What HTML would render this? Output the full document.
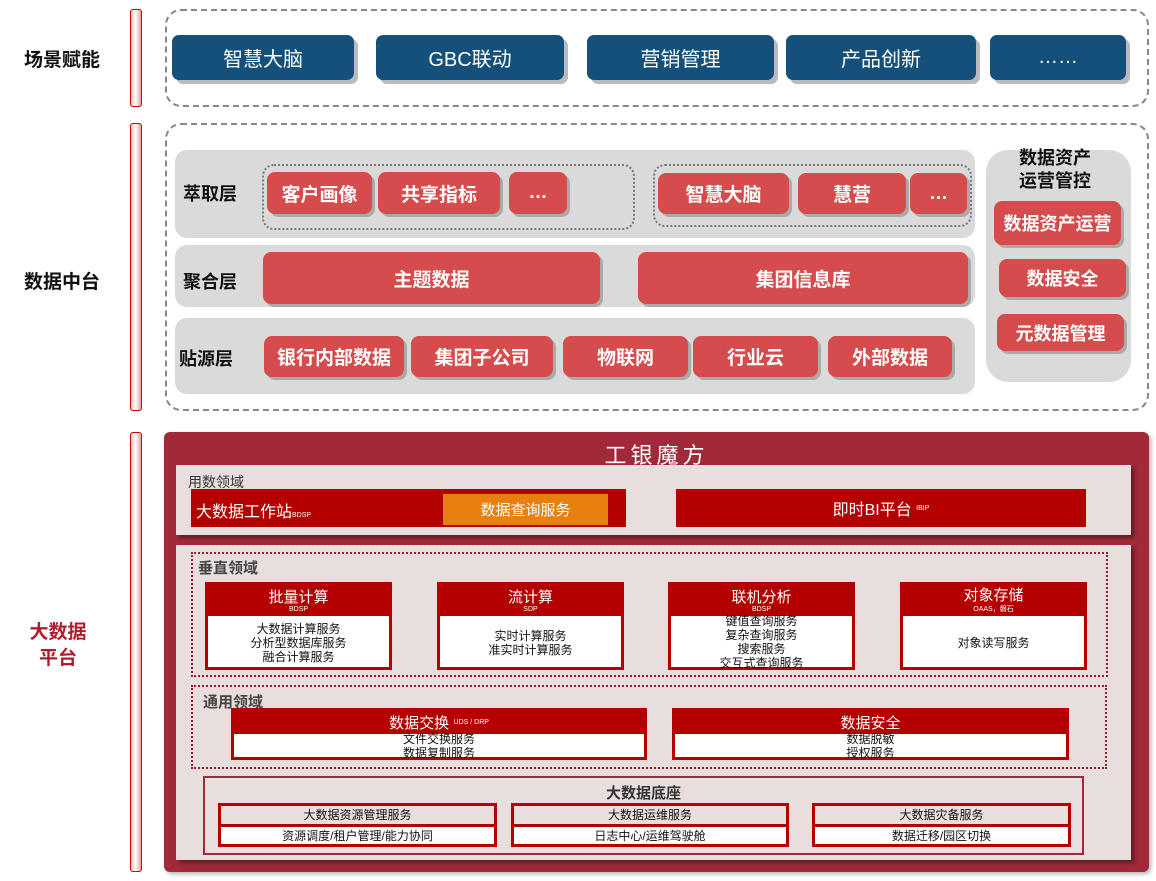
<!DOCTYPE html>
<html><head><meta charset="utf-8"><style>
*{margin:0;padding:0;box-sizing:border-box}
body{width:1156px;height:881px;position:relative;background:#fff;font-family:"Liberation Sans","Noto Sans CJK SC",sans-serif;overflow:hidden}
div{position:absolute}
.c{display:flex;align-items:center;justify-content:center;text-align:center}
.lbl{font-weight:bold;font-size:19px;color:#111}
.bar{width:12px;border:1.5px solid #c00;border-radius:3px;background:linear-gradient(90deg,#f4c0c0,#fff 45%,#e8a0a0)}
.dash{border:2.5px dashed #888;border-radius:16px}
.blue{background:#15507a;color:#fff;font-size:20px;border-radius:7px;box-shadow:4px 4px 0 #bbb}
.gray{background:#dadada;border-radius:12px}
.rb{background:#d64b4b;color:#fff;font-weight:bold;font-size:19px;border-radius:8px;box-shadow:3px 3px 0 #aaa}
.dot{border:2px dotted #777;border-radius:12px}
.rl{font-weight:bold;font-size:18px;color:#111}
.pan{background:#e8dedd;box-shadow:3px 3px 4px rgba(0,0,0,.4)}
.rd{border:2px dotted #a11a2a}
.box{border:3px solid #b50000;background:#fff}
.hd{background:#b50000;color:#fff;left:0;right:0;top:0;flex-direction:column}
.t{font-size:12px;color:#111;line-height:14px;left:0;right:0;flex-direction:column}
.sub{border:3px solid #b50000;background:#fff}
</style></head><body>
<!-- left labels -->
<div class="lbl" style="left:24px;top:45px">场景赋能</div>
<div class="lbl" style="left:24px;top:267px">数据中台</div>
<div class="lbl" style="left:26px;top:620px;color:#b01c2e;line-height:26px;text-align:center;width:64px">大数据<br>平台</div>
<div class="bar" style="left:130px;top:9px;height:98px"></div>
<div class="bar" style="left:130px;top:123px;height:288px"></div>
<div class="bar" style="left:130px;top:432px;height:440px"></div>

<!-- top -->
<div class="dash" style="left:165px;top:9px;width:984px;height:98px"></div>
<div class="blue c" style="left:172px;top:35px;width:182px;height:45px">智慧大脑</div>
<div class="blue c" style="left:376px;top:35px;width:188px;height:45px">GBC联动</div>
<div class="blue c" style="left:587px;top:35px;width:187px;height:45px">营销管理</div>
<div class="blue c" style="left:786px;top:35px;width:190px;height:45px">产品创新</div>
<div class="blue c" style="left:990px;top:35px;width:136px;height:45px">……</div>

<!-- middle -->
<div class="dash" style="left:165px;top:123px;width:984px;height:288px"></div>
<div class="gray" style="left:175px;top:150px;width:800px;height:88px"></div>
<div class="gray" style="left:175px;top:245px;width:800px;height:62px"></div>
<div class="gray" style="left:175px;top:318px;width:800px;height:76px"></div>
<div class="gray" style="left:986px;top:150px;width:145px;height:232px;border-radius:22px"></div>
<div class="rl" style="left:183px;top:180px">萃取层</div>
<div class="rl" style="left:183px;top:268px">聚合层</div>
<div class="rl" style="left:179px;top:345px">贴源层</div>
<div class="dot" style="left:262px;top:164px;width:373px;height:66px"></div>
<div class="dot" style="left:653px;top:164px;width:319px;height:63px"></div>
<div class="rb c" style="left:267px;top:172px;width:105px;height:42px">客户画像</div>
<div class="rb c" style="left:378px;top:172px;width:122px;height:42px">共享指标</div>
<div class="rb c" style="left:509px;top:172px;width:58px;height:42px">…</div>
<div class="rb c" style="left:658px;top:173px;width:131px;height:41px">智慧大脑</div>
<div class="rb c" style="left:798px;top:173px;width:108px;height:41px">慧营</div>
<div class="rb c" style="left:910px;top:173px;width:57px;height:41px">…</div>
<div class="rb c" style="left:263px;top:252px;width:337px;height:52px">主题数据</div>
<div class="rb c" style="left:638px;top:252px;width:330px;height:52px">集团信息库</div>
<div class="rb c" style="left:264px;top:336px;width:140px;height:41px">银行内部数据</div>
<div class="rb c" style="left:411px;top:336px;width:142px;height:41px">集团子公司</div>
<div class="rb c" style="left:563px;top:336px;width:125px;height:41px">物联网</div>
<div class="rb c" style="left:693px;top:336px;width:125px;height:41px">行业云</div>
<div class="rb c" style="left:828px;top:336px;width:124px;height:41px">外部数据</div>
<div class="rl" style="left:1010px;top:147px;width:90px;text-align:center;line-height:23px">数据资产<br>运营管控</div>
<div class="rb c" style="left:994px;top:201px;width:127px;height:44px;font-size:18px">数据资产运营</div>
<div class="rb c" style="left:999px;top:259px;width:127px;height:38px;font-size:18px">数据安全</div>
<div class="rb c" style="left:997px;top:314px;width:127px;height:37px;font-size:18px">元数据管理</div>

<!-- bottom -->
<div style="left:164px;top:432px;width:985px;height:440px;background:#a12a3a;border-radius:6px;box-shadow:2px 2px 4px rgba(0,0,0,.3)"></div>
<div style="left:164px;top:438px;width:985px;text-align:center;color:#fff;font-size:22px;letter-spacing:4px">工银魔方</div>
<div class="pan" style="left:176px;top:465px;width:955px;height:70px"></div>
<div style="left:188px;top:472px;font-size:14px;color:#333">用数领域</div>
<div style="left:191px;top:489px;width:435px;height:38px;background:#b50000"></div>
<div style="left:196px;top:498px;color:#fff;font-size:16px">大数据工作站<span style="font-size:7px">BDSP</span></div>
<div class="c" style="left:443px;top:494px;width:165px;height:31px;background:#e8800f;color:#fff;font-size:15px">数据查询服务</div>
<div class="c" style="left:676px;top:489px;width:410px;height:38px;background:#b50000;color:#fff;font-size:16px">即时BI平台&nbsp;<span style="font-size:7px">IBIP</span></div>

<div class="pan" style="left:176px;top:545px;width:955px;height:315px"></div>
<div class="rd" style="left:191px;top:552px;width:917px;height:125px"></div>
<div style="left:198px;top:557px;font-size:15px;font-weight:bold;color:#444">垂直领域</div>
<div class="box" style="left:205px;top:582px;width:187px;height:88px"><div class="hd c" style="height:31px"><span style="font-size:15px;line-height:17px">批量计算</span><span style="font-size:7px">BDSP</span></div><div class="t c" style="top:33px;bottom:0">大数据计算服务<br>分析型数据库服务<br>融合计算服务</div></div>
<div class="box" style="left:437px;top:582px;width:187px;height:88px"><div class="hd c" style="height:31px"><span style="font-size:15px;line-height:17px">流计算</span><span style="font-size:7px">SDP</span></div><div class="t c" style="top:33px;bottom:0">实时计算服务<br>准实时计算服务</div></div>
<div class="box" style="left:668px;top:582px;width:187px;height:88px"><div class="hd c" style="height:31px"><span style="font-size:15px;line-height:17px">联机分析</span><span style="font-size:7px">BDSP</span></div><div class="t c" style="top:31px;bottom:0">键值查询服务<br>复杂查询服务<br>搜索服务<br>交互式查询服务</div></div>
<div class="box" style="left:900px;top:582px;width:187px;height:88px"><div class="hd c" style="height:31px"><span style="font-size:15px;line-height:17px">对象存储</span><span style="font-size:7px">OAAS，磐石</span></div><div class="t c" style="top:33px;bottom:0">对象读写服务</div></div>

<div class="rd" style="left:191px;top:685px;width:916px;height:84px"></div>
<div style="left:203px;top:691px;font-size:15px;font-weight:bold;color:#444">通用领域</div>
<div class="box" style="left:231px;top:708px;width:416px;height:52px"><div class="hd c" style="height:23px;flex-direction:row"><span style="font-size:15px">数据交换</span>&nbsp;<span style="font-size:7px">UDS / DRP</span></div><div class="t c" style="top:23px;bottom:0">文件交换服务<br>数据复制服务</div></div>
<div class="box" style="left:672px;top:708px;width:397px;height:52px"><div class="hd c" style="height:23px"><span style="font-size:15px">数据安全</span></div><div class="t c" style="top:23px;bottom:0">数据脱敏<br>授权服务</div></div>

<div style="left:203px;top:776px;width:881px;height:79px;border:2px solid #a12a3a"></div>
<div style="left:203px;top:782px;width:881px;text-align:center;font-size:15px;font-weight:bold;color:#333">大数据底座</div>
<div class="sub" style="left:218px;top:803px;width:279px;height:44px;background:linear-gradient(#e8dedd 0 18px,#b50000 18px 21px,#fff 21px)"><div class="t c" style="top:0;height:18px">大数据资源管理服务</div><div class="t c" style="top:21px;height:17px">资源调度/租户管理/能力协同</div></div>
<div class="sub" style="left:511px;top:803px;width:278px;height:44px;background:linear-gradient(#e8dedd 0 18px,#b50000 18px 21px,#fff 21px)"><div class="t c" style="top:0;height:18px">大数据运维服务</div><div class="t c" style="top:21px;height:17px">日志中心/运维驾驶舱</div></div>
<div class="sub" style="left:812px;top:803px;width:259px;height:44px;background:linear-gradient(#e8dedd 0 18px,#b50000 18px 21px,#fff 21px)"><div class="t c" style="top:0;height:18px">大数据灾备服务</div><div class="t c" style="top:21px;height:17px">数据迁移/园区切换</div></div>
</body></html>
